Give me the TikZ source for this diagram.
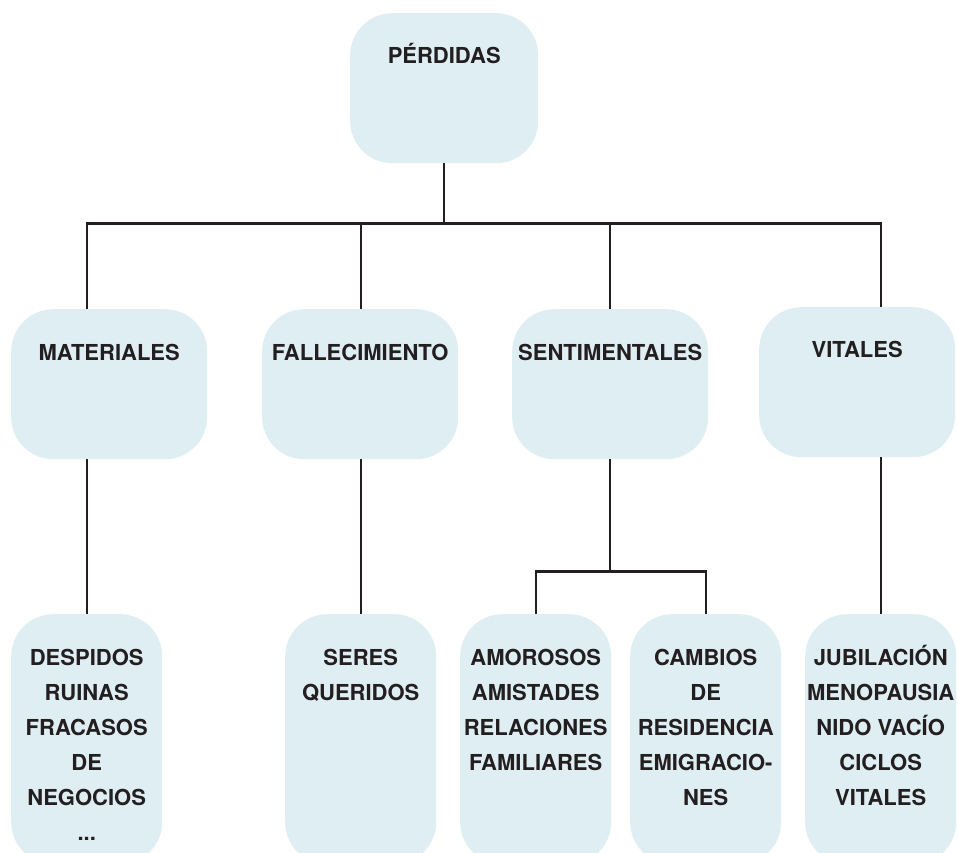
\documentclass[tikz,border=0pt]{standalone}
\usepackage{fontspec}
\setmainfont{TeX Gyre Heros}
\definecolor{boxfill}{HTML}{DFEEF3}
\definecolor{ink}{HTML}{231F20}
\begin{document}
\begin{tikzpicture}[x=1pt,y=-1pt,
  box/.style={fill=boxfill, draw=none, rounded corners=42pt, inner sep=0pt,
              anchor=north west},
  midbox/.style={box, minimum width=196pt, minimum height=150pt},
  leafbox/.style={box, minimum width=151pt, minimum height=250pt},
  lbl/.style={anchor=base, inner sep=0pt, text=ink,
              font=\fontsize{22}{35}\selectfont\bfseries},
  link/.style={draw=ink, line width=2.3pt, line join=miter}]
\useasboundingbox (0,0) rectangle (958,852);
\clip (0,0) rectangle (958,852);

% root
\node[box, minimum width=188pt, minimum height=150pt] (perd) at (350,13) {};
\node[lbl] (perdT) at ([yshift=-50pt]perd.north) {PÉRDIDAS};

% categories
\node[midbox] (mat) at (11,309) {};
\node[midbox] (fal) at (262,309) {};
\node[midbox] (sen) at (512,309) {};
\node[midbox] (vit) at (759,307) {};
\node[lbl] (matT) at ([yshift=-51pt]mat.north) {MATERIALES};
\node[lbl] (falT) at ([yshift=-51pt]fal.north) {FALLECIMIENTO};
\node[lbl] (senT) at ([yshift=-51pt]sen.north) {SENTIMENTALES};
\node[lbl] (vitT) at ([yshift=-50pt]vit.north) {VITALES};

% examples
\node[leafbox] (desp) at (11,614) {};
\node[leafbox] (ser)  at (285,614) {};
\node[leafbox] (amo)  at (460,614) {};
\node[leafbox] (cam)  at (630,614) {};
\node[leafbox] (jub)  at (805,614) {};
\node[lbl] (despT) at ([yshift=-51pt]desp.north)
  {\begin{tabular}[t]{@{}c@{}}DESPIDOS\\RUINAS\\FRACASOS\\DE\\NEGOCIOS\\...\end{tabular}};
\node[lbl] (serT) at ([yshift=-51pt]ser.north)
  {\begin{tabular}[t]{@{}c@{}}SERES\\QUERIDOS\end{tabular}};
\node[lbl] (amoT) at ([yshift=-51pt]amo.north)
  {\begin{tabular}[t]{@{}c@{}}AMOROSOS\\AMISTADES\\RELACIONES\\FAMILIARES\end{tabular}};
\node[lbl] (camT) at ([yshift=-51pt]cam.north)
  {\begin{tabular}[t]{@{}c@{}}CAMBIOS\\DE\\RESIDENCIA\\EMIGRACIO-\\NES\end{tabular}};
\node[lbl] (jubT) at ([yshift=-51pt]jub.north)
  {\begin{tabular}[t]{@{}c@{}}JUBILACIÓN\\MENOPAUSIA\\NIDO VACÍO\\CICLOS\\VITALES\end{tabular}};

% connectors
\coordinate (hub) at ([yshift=-60pt]perd.south);
\draw[link] (perd.south) -- (hub);
\draw[link] (mat.north -| desp.north) -- (hub -| desp.north)
  -- (hub -| jub.north) -- (vit.north -| jub.north);
\draw[link] (hub -| ser.north) -- (fal.north -| ser.north);
\draw[link] (hub -| sen.north) -- (sen.north);

\draw[link] (mat.south -| desp.north) -- (desp.north);
\draw[link] (fal.south -| ser.north) -- (ser.north);
\draw[link] (vit.south -| jub.north) -- (jub.north);

\coordinate (fork) at ([yshift=-112pt]sen.south);
\draw[link] (sen.south) -- (fork);
\draw[link] (amo.north) |- (cam.north |- fork) -- (cam.north);
\end{tikzpicture}
\end{document}
